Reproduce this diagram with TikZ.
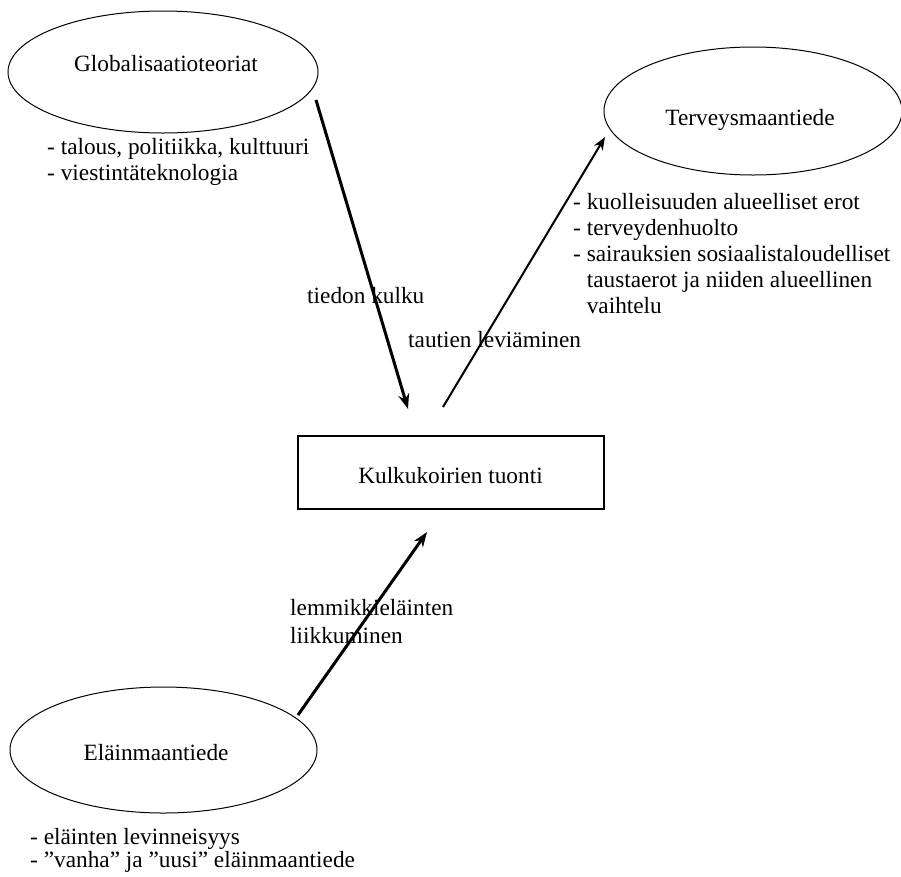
\documentclass[tikz,border=0pt]{standalone}
\usepackage{fontspec}
\setmainfont{Liberation Serif}
\usetikzlibrary{shapes.geometric,arrows.meta}
\begin{document}
\begin{tikzpicture}[x=1pt,y=-1pt,
  every node/.style={font=\fontsize{23.3}{25.8}\selectfont, inner sep=0pt},
  oval/.style={draw, ellipse, line width=1pt},
  flow/.style={-{Stealth[length=15pt,width=11pt]}, line width=3pt},
  thinflow/.style={-{Stealth[length=13pt,width=10pt]}, line width=2pt},
  lbl/.style={anchor=base west, align=left}]
\useasboundingbox (0,0) rectangle (901,876);
\fill[white] (0,0) rectangle (901,876);
% ellipses
\node[oval, minimum width=310pt, minimum height=122pt] (glob) at (163,72) {};
\node[anchor=base] (globt) at (166,71) {Globalisaatioteoriat};
\node[oval, minimum width=298pt, minimum height=128pt] (terv) at (753,111) {};
\node[anchor=base] (tervt) at (750,125) {Terveysmaantiede};
\node[oval, minimum width=307pt, minimum height=126pt] (elain) at (163.5,750) {};
\node[anchor=base] (elaint) at (156,760) {Eläinmaantiede};
% box
\node[draw, line width=1.4pt, minimum width=306pt, minimum height=73pt] (box) at (451,472.5) {};
\node[anchor=base] (boxt) at (450.5,483) {Kulkukoirien tuonti};
% bullet texts (anchor = baseline of last line)
\node[lbl, font=\fontsize{23.3}{26}\selectfont] (gb) at (47,180) {- talous, politiikka, kulttuuri\\- viestintäteknologia};
\node[lbl] (tb) at (573,313) {- kuolleisuuden alueelliset erot\\- terveydenhuolto\\- sairauksien sosiaalistaloudelliset\\\hphantom{-} taustaerot ja niiden alueellinen\\\hphantom{-} vaihtelu};
\node[lbl, font=\fontsize{23.3}{22.5}\selectfont] (eb) at (30,867) {- eläinten levinneisyys\\- ”vanha” ja ”uusi” eläinmaantiede};
% arrow end points
\coordinate (a1s) at (316,100);
\coordinate (a1e) at (408,409);
\coordinate (a2s) at (443,407);
\coordinate (a2e) at (605,137);
\coordinate (a3s) at (298,715);
\coordinate (a3e) at (427,532);
\draw[flow] (a1s) -- (a1e);
\draw[thinflow] (a2s) -- (a2e);
\draw[flow] (a3s) -- (a3e);
% connector labels
\node[lbl] (l1) at (307,303) {tiedon kulku};
\node[lbl] (l2) at (408,347) {tautien leviäminen};
\node[lbl, font=\fontsize{23.3}{28}\selectfont] (l3) at (290,643) {lemmikkieläinten\\liikkuminen};
\end{tikzpicture}
\end{document}
